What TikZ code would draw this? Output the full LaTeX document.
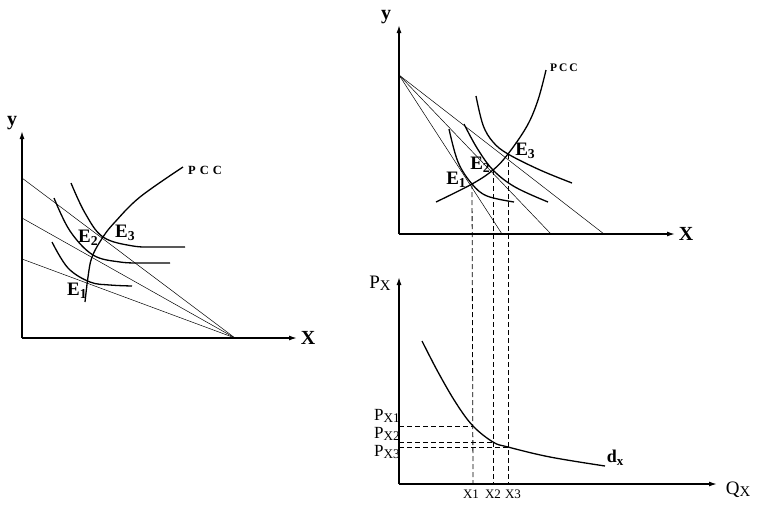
\documentclass[tikz,border=0pt]{standalone}
\usepackage{fontspec}
\setmainfont{Liberation Serif}
\usetikzlibrary{arrows.meta}
\newcommand{\lowsub}[1]{\raisebox{-0.35ex}{\fontsize{0.72em}{0.72em}\selectfont #1}}
\newcommand{\bigsub}[1]{\raisebox{-0.2ex}{\fontsize{0.78em}{0.78em}\selectfont #1}}
\begin{document}
\begin{tikzpicture}[x=1pt,y=-1pt,
  axis/.style={line width=1.4pt,-{Latex[length=8pt,width=5pt]}},
  icurve/.style={line width=1.3pt,smooth,tension=0.6},
  budget/.style={line width=0.5pt},
  guide/.style={line width=0.8pt,dash pattern=on 5pt off 3pt},
  elabel/.style={font=\fontsize{19}{19}\selectfont\bfseries,inner sep=0pt},
  pcclabel/.style={font=\fontsize{11.5}{11.5}\selectfont\bfseries,inner sep=0pt},
  axlabel/.style={font=\fontsize{20}{20}\selectfont\bfseries,inner sep=0pt},
  plabel/.style={font=\fontsize{19}{19}\selectfont,inner sep=0pt},
  pxlabel/.style={font=\fontsize{17}{17}\selectfont,inner sep=0pt},
  qlabel/.style={font=\fontsize{13}{13}\selectfont,inner sep=0pt}]
\useasboundingbox (0,0) rectangle (759,520);

% ---------- left diagram ----------
\coordinate (LO) at (22,338);
\coordinate (LYt) at (22,131);
\coordinate (LXt) at (297,338);
\coordinate (LB) at (235,338);
\coordinate (LA1) at (22,259);
\coordinate (LA2) at (22,218);
\coordinate (LA3) at (22,178);
\draw[axis] (LO) -- (LYt);
\draw[axis] (LO) -- (LXt);
\node[axlabel] (Ly) at (12,123) {y};
\node[axlabel] (Lx) at (308,338) {X};
\draw[budget] (LA1) -- (LB);
\draw[budget] (LA2) -- (LB);
\draw[budget] (LA3) -- (LB);
\draw[icurve] plot coordinates {(52,242) (68,268) (90,282) (110,285) (132,286)};
\draw[icurve] plot coordinates {(54,198) (70,231) (93,255) (120,262) (145,263) (170,263)};
\draw[icurve] plot coordinates {(71,183) (85,213) (103,237) (133,246) (160,247) (185,247)};
\draw[icurve] plot coordinates {(85,302) (88,277) (92,257) (103,237) (115,222) (140,197) (183,167)};
\node[pcclabel,font=\fontsize{12.5}{12.5}\selectfont\bfseries,anchor=west] (Lpcc) at (188,170) {P\hspace{4pt}C\hspace{4pt}C};
\node[elabel] (LE1) at (77,291) {E\lowsub{1}};
\node[elabel] (LE2) at (88,238) {E\lowsub{2}};
\node[elabel] (LE3) at (125,233) {E\lowsub{3}};

% ---------- right top diagram ----------
\coordinate (TO) at (399,234);
\coordinate (TYt) at (399,25);
\coordinate (TXt) at (675,234);
\coordinate (TA) at (399,75);
\coordinate (TB1) at (502,234);
\coordinate (TB2) at (551,234);
\coordinate (TB3) at (604,234);
\draw[axis] (TO) -- (TYt);
\draw[axis] (TO) -- (TXt);
\node[axlabel] (Ty) at (386,17) {y};
\node[axlabel] (Tx) at (686,234) {X};
\draw[budget] (TA) -- (TB1);
\draw[budget] (TA) -- (TB2);
\draw[budget] (TA) -- (TB3);
\coordinate (E1) at (472,184);
\coordinate (E2) at (493,170);
\coordinate (E3) at (508,154);
\draw[icurve] plot coordinates {(449,129) (458,162) (472,184) (487,196) (514,202)};
\draw[icurve] plot coordinates {(464,124) (477,148) (493,170) (515,187) (548,202)};
\draw[icurve] plot coordinates {(476,96) (483,125) (493,142) (508,154) (540,170) (572,183)};
\draw[icurve] plot coordinates {(436,202) (472,184) (493,170) (508,154) (527,126) (538,100) (546,70)};
\node[pcclabel,anchor=west] (Tpcc) at (550,68) {P\,C\,C};
\node[elabel] (TE1) at (456,180) {E\lowsub{1}};
\node[elabel] (TE2) at (480,165) {E\lowsub{2}};
\node[elabel] (TE3) at (525,151) {E\lowsub{3}};

% ---------- right bottom diagram ----------
\coordinate (BO) at (399,484);
\coordinate (BYt) at (399,277);
\coordinate (BXt) at (717,484);
\draw[axis] (BO) -- (BYt);
\draw[axis] (BO) -- (BXt);
\node[plabel] (Px) at (380,283) {P\bigsub{X}};
\node[plabel] (Qx) at (738,490) {Q\bigsub{X}};
\coordinate (D1) at (473,426);
\coordinate (D2) at (493,442);
\coordinate (D3) at (508,447);
\draw[icurve] plot coordinates {(422,341) (438,372) (456,403) (473,426) (493,442) (508,447) (550,457) (605,466)};
\node[font=\fontsize{18}{18}\selectfont\bfseries,inner sep=0pt] (dx) at (615,458) {d\lowsub{x}};
\coordinate (PY1) at (399,426);
\coordinate (PY2) at (399,442);
\coordinate (PY3) at (399,447);
\draw[guide] (PY1) -- (D1);
\draw[guide] (PY2) -- (D2);
\draw[guide] (PY3) -- (D3);
\coordinate (X1b) at (473,484);
\coordinate (X2b) at (493,484);
\coordinate (X3b) at (508,484);
\draw[guide] (E1) -- (X1b);
\draw[guide] (E2) -- (X2b);
\draw[guide] (E3) -- (X3b);
\node[pxlabel,anchor=east] (P1) at (400,416) {P\bigsub{X1}};
\node[pxlabel,anchor=east] (P2) at (400,434) {P\bigsub{X2}};
\node[pxlabel,anchor=east] (P3) at (400,452) {P\bigsub{X3}};
\node[qlabel] (q1) at (471,494) {X1};
\node[qlabel] (q2) at (493,494) {X2};
\node[qlabel] (q3) at (513,494) {X3};
\end{tikzpicture}
\end{document}
